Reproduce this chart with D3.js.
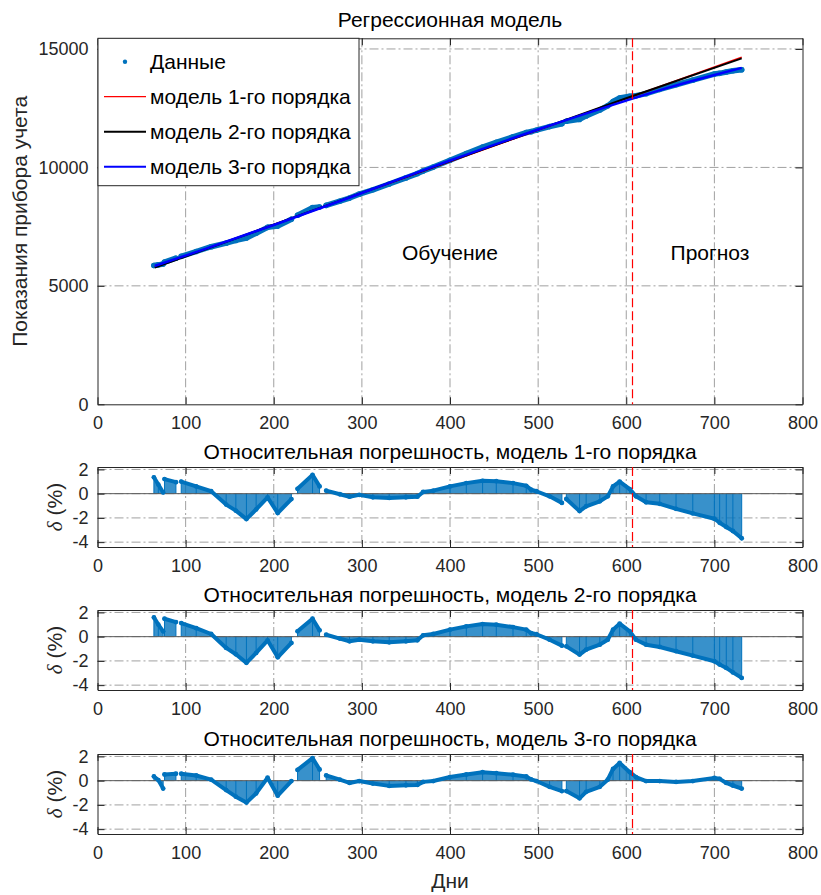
<!DOCTYPE html>
<html><head><meta charset="utf-8">
<script src="https://cdn.jsdelivr.net/npm/d3@7"></script>
<style>
body{margin:0;background:#fff}
svg text{font-family:"Liberation Sans",Arial,sans-serif}
</style>
</head><body>
<svg id="c" width="821" height="895"></svg>
<script>
// ---------------- DATA ----------------
const days = [64,69,74.5,null,76,89,null,95,112,129,146,157,169,180,193,204.5,220,null,227,244,252,null,
  259.5,275,286,297,312.5,331,350,363,369.5,381,400,418.5,437,452.5,471.5,486.5,492,498,513,527,null,
  532,547,554.5,570,579,585,592.5,604,611,622.5,638,656.5,675.5,700,706,713.5,721,731];
const readings = [5860,5887,5924,null,6005,6167,null,6247,6450,6652,6803,6918,7018,7223,7470,7523,7813,null,
  7981,8302,8326,null,
  8398,8574,8707,8871,9055,9300,9557,9740,9853,10014,10301,10583,10857,11058,11293,11471,11510,11571,11722,11845,null,
  11947,12027,12174,12425,12601,12781,12932,13005,13027,13114,13296,13490,13684,13943,13971,14028,14078,14121];
const err1 = [1.35,0.75,0.1,null,1.2,0.95,null,1.0,0.6,0.2,-0.9,-1.4,-2.1,-1.3,-0.3,-1.6,-0.45,null,
  0.4,1.55,0.6,null,
  0.25,-0.05,-0.25,-0.1,-0.3,-0.35,-0.3,-0.25,0.14,0.25,0.6,0.87,1.06,1.03,0.87,0.65,0.33,0.2,-0.22,-0.76,null,
  -0.44,-1.44,-1.04,-0.63,-0.22,0.6,1.0,0.38,-0.22,-0.71,-0.84,-1.25,-1.63,-2.07,-2.4,-2.75,-3.08,-3.68];
const err2 = [1.59,1.0,0.44,null,1.48,1.2,null,1.12,0.7,0.22,-0.93,-1.45,-2.16,-1.34,-0.3,-1.7,-0.52,null,
  0.44,1.48,0.52,null,
  0.16,-0.16,-0.38,-0.25,-0.38,-0.47,-0.38,-0.3,0.11,0.22,0.58,0.85,1.04,0.99,0.79,0.58,0.3,0.2,-0.25,-0.74,null,
  -0.8,-1.48,-1.07,-0.66,-0.25,0.58,1.07,0.44,-0.25,-0.66,-0.85,-1.2,-1.56,-2.03,-2.3,-2.58,-2.95,-3.4];
const err3 = [0.35,0.05,-0.65,null,0.51,0.57,null,0.57,0.43,0.08,-0.78,-1.32,-1.81,-1.05,0.24,-1.24,-0.03,null,
  0.89,1.86,0.92,null,
  0.43,0.08,-0.19,-0.03,-0.24,-0.43,-0.38,-0.35,-0.1,-0.03,0.3,0.51,0.7,0.62,0.49,0.35,0.1,-0.03,-0.51,-0.86,null,
  -0.86,-1.46,-0.92,-0.51,0.08,0.97,1.46,0.7,0.3,-0.03,-0.03,-0.1,-0.03,0.22,0.15,-0.19,-0.4,-0.65];

const model1Days = [65,731];
const model1 = [5790,14648];
const model2Days = [65,200,330,460,600,731];
const model2 = [5770,7582,9330,11057,12917,14601];
const model3Days = [65,120,200,300,400,500,600,650,700,731];
const model3 = [5840,6530,7570,8920,10290,11600,12820,13390,13900,14200];

const splitDay = 606;
const xTicks = [0,100,200,300,400,500,600,700,800];
const yTicksTop = [0,5000,10000,15000];
const yTicksErr = [-4,-2,0,2];
const legendLabels = ["Данные","модель 1-го порядка","модель 2-го порядка","модель 3-го порядка"];
const mainTitle = "Регрессионная модель";
const errTitles = ["Относительная погрешность, модель 1-го порядка",
                   "Относительная погрешность, модель 2-го порядка",
                   "Относительная погрешность, модель 3-го порядка"];
const regionLabels = [{t:"Обучение", d:400, v:6420},{t:"Прогноз", d:695, v:6420}];

// ---------------- DRAW ----------------
const svg = d3.select('#c');
const AX = '#262626', GRID = '#a0a0a0', BLUE = '#0072BD';
const x = d3.scaleLinear().domain([0,800]).range([97.5,802.5]);

function axes(g, y, yTicks, top, bottom) {
  g.append('g').selectAll('line').data(xTicks.filter(t=>t>0&&t<800)).join('line')
    .attr('x1',d=>x(d)).attr('x2',d=>x(d)).attr('y1',top).attr('y2',bottom)
    .attr('stroke',GRID).attr('stroke-width',1).attr('stroke-dasharray','9,3,2,3');
  g.append('g').selectAll('line').data(yTicks.filter(t=>Math.abs(y(t)-bottom)>2&&Math.abs(y(t)-top)>2)).join('line')
    .attr('x1',x(0)).attr('x2',x(800)).attr('y1',d=>y(d)).attr('y2',d=>y(d))
    .attr('stroke',GRID).attr('stroke-width',1).attr('stroke-dasharray','9,3,2,3');
}
function frame(g, y, yTicks, top, bottom) {
  const b = g.append('g').attr('transform',`translate(0,${bottom})`)
    .call(d3.axisBottom(x).tickValues(xTicks).tickSizeInner(-7).tickSizeOuter(0).tickPadding(12));
  const t = g.append('g').attr('transform',`translate(0,${top})`)
    .call(d3.axisTop(x).tickValues(xTicks).tickSizeInner(-7).tickSizeOuter(0).tickFormat(''));
  const l = g.append('g').attr('transform',`translate(${x(0)},0)`)
    .call(d3.axisLeft(y).tickValues(yTicks).tickSizeInner(-7).tickSizeOuter(0).tickPadding(9).tickFormat(d3.format('d')));
  const r = g.append('g').attr('transform',`translate(${x(800)},0)`)
    .call(d3.axisRight(y).tickValues(yTicks).tickSizeInner(-7).tickSizeOuter(0).tickFormat(''));
  [b,t,l,r].forEach(a=>{
    a.selectAll('path,line').attr('stroke',AX).attr('stroke-width',1);
    a.selectAll('text').attr('fill',AX).style('font-size','18px').style('font-family','"Liberation Sans",Arial,sans-serif');
  });
  l.selectAll('text').text(d=>d<0?'-'+Math.abs(d):d);
}
function splitLine(g, top, bottom) {
  const px = Math.round(x(splitDay)) + 0.5;
  g.append('line').attr('x1',px).attr('x2',px).attr('y1',top).attr('y2',bottom)
    .style('stroke','#ff0000').style('stroke-width','1.2px').style('stroke-dasharray','9,4');
}

// ---- top panel ----
{
  const top = 38.3, bottom = 404.3;
  const y = d3.scaleLinear().domain([0,15450]).range([bottom, top]);
  const g = svg.append('g');
  axes(g, y, yTicksTop, top, bottom);
  const pts = days.map((d,i)=>({d, v: readings[i]}));
  const def = p => p.d!=null && p.v!=null;
  g.append('path').datum(pts)
    .attr('d', d3.line().defined(def).x(p=>x(p.d)).y(p=>y(p.v)))
    .attr('fill','none').attr('stroke',BLUE).attr('stroke-width',5.5).attr('stroke-linejoin','round').attr('stroke-linecap','round');
  g.append('g').selectAll('circle').data(pts.filter(def)).join('circle')
    .attr('cx',p=>x(p.d)).attr('cy',p=>y(p.v)).attr('r',2.8).attr('fill',BLUE);
  const mline = d3.line().curve(d3.curveMonotoneX).x(p=>x(p[0])).y(p=>y(p[1]));
  g.append('path').datum(model1Days.map((d,i)=>[d,model1[i]])).attr('d',mline)
    .attr('fill','none').attr('stroke','#FF0000').attr('stroke-width',1.5);
  g.append('path').datum(model2Days.map((d,i)=>[d,model2[i]])).attr('d',mline)
    .attr('fill','none').attr('stroke','#000').attr('stroke-width',2);
  g.append('path').datum(model3Days.map((d,i)=>[d,model3[i]])).attr('d',mline)
    .attr('fill','none').attr('stroke','#0000FF').attr('stroke-width',2.5);
  g.selectAll('text.reg').data(regionLabels).join('text').attr('class','reg')
    .attr('x',p=>x(p.d)).attr('y',p=>y(p.v)).attr('dy','0.35em').attr('text-anchor','middle')
    .style('font-size','21px').attr('fill','#000').text(p=>p.t);
  frame(g, y, yTicksTop, top, bottom);
  splitLine(g, top, bottom);
  // legend
  const lg = g.append('g');
  lg.append('rect').attr('x',98).attr('y',38.3).attr('width',261).attr('height',147.4)
    .attr('fill','#fff').attr('stroke',AX).attr('stroke-width',1);
  const rowsY = [61.7,96.7,131.7,166.7];
  const cols = [null,'#FF0000','#000000','#0000FF'];
  legendLabels.forEach((t,i)=>{
    if (i===0) lg.append('circle').attr('cx',125).attr('cy',rowsY[i]).attr('r',2.2).attr('fill',BLUE);
    else lg.append('line').attr('x1',104).attr('x2',146).attr('y1',rowsY[i]).attr('y2',rowsY[i])
      .attr('stroke',cols[i]).attr('stroke-width',i===1?1.2:2);
    lg.append('text').attr('x',150).attr('y',rowsY[i]).attr('dy','0.35em')
      .style('font-size','21px').attr('fill','#000').text(t);
  });
  svg.append('text').attr('x',450).attr('y',27).attr('text-anchor','middle')
    .style('font-size','21px').attr('fill','#000').text(mainTitle);
  svg.append('text').attr('transform',`translate(27,${(top+bottom)/2}) rotate(-90)`)
    .attr('text-anchor','middle').style('font-size','21px').attr('fill',AX).text('Показания прибора учета');
}

// ---- error panels ----
const panels = [{top:467,bottom:547,vals:err1},{top:610,bottom:690,vals:err2},{top:754,bottom:834,vals:err3}];
panels.forEach((P,k)=>{
  const y = d3.scaleLinear().domain([-4.4,2.2]).range([P.bottom,P.top]);
  const g = svg.append('g');
  axes(g, y, yTicksErr, P.top, P.bottom);
  const pts = days.map((d,i)=>({d, v: P.vals[i]}));
  const def = p => p.d!=null && p.v!=null;
  g.append('path').datum(pts)
    .attr('d', d3.area().defined(def).x(p=>x(p.d)).y0(y(0)).y1(p=>y(p.v)))
    .attr('fill',BLUE).attr('fill-opacity',0.78);
  g.append('g').selectAll('line').data(pts.filter(def)).join('line')
    .attr('x1',p=>x(p.d)).attr('x2',p=>x(p.d)).attr('y1',y(0)).attr('y2',p=>y(p.v))
    .attr('stroke',BLUE).attr('stroke-width',1);
  g.append('line').attr('x1',x(0)).attr('x2',x(800)).attr('y1',y(0)).attr('y2',y(0))
    .attr('stroke','#5a5a5a').attr('stroke-width',1);
  g.append('path').datum(pts)
    .attr('d', d3.line().defined(def).x(p=>x(p.d)).y(p=>y(p.v)))
    .attr('fill','none').attr('stroke',BLUE).attr('stroke-width',4).attr('stroke-linejoin','round').attr('stroke-linecap','round');
  g.append('g').selectAll('circle').data(pts.filter(def)).join('circle')
    .attr('cx',p=>x(p.d)).attr('cy',p=>y(p.v)).attr('r',2.4).attr('fill',BLUE);
  frame(g, y, yTicksErr, P.top, P.bottom);
  splitLine(g, P.top, P.bottom);
  svg.append('text').attr('x',450).attr('y',P.top-8.5).attr('text-anchor','middle')
    .style('font-size','21px').attr('fill','#000').text(errTitles[k]);
  const yl = svg.append('text').attr('transform',`translate(62,${(P.top+P.bottom)/2}) rotate(-90)`)
    .attr('text-anchor','middle').style('font-size','21px').attr('fill',AX);
  yl.append('tspan').style('font-family','"Liberation Serif",serif').style('font-style','italic').text('δ');
  yl.append('tspan').text(' (%)');
});
svg.append('text').attr('x',450).attr('y',888).attr('text-anchor','middle')
  .style('font-size','21px').attr('fill',AX).text('Дни');
</script>
</body></html>
